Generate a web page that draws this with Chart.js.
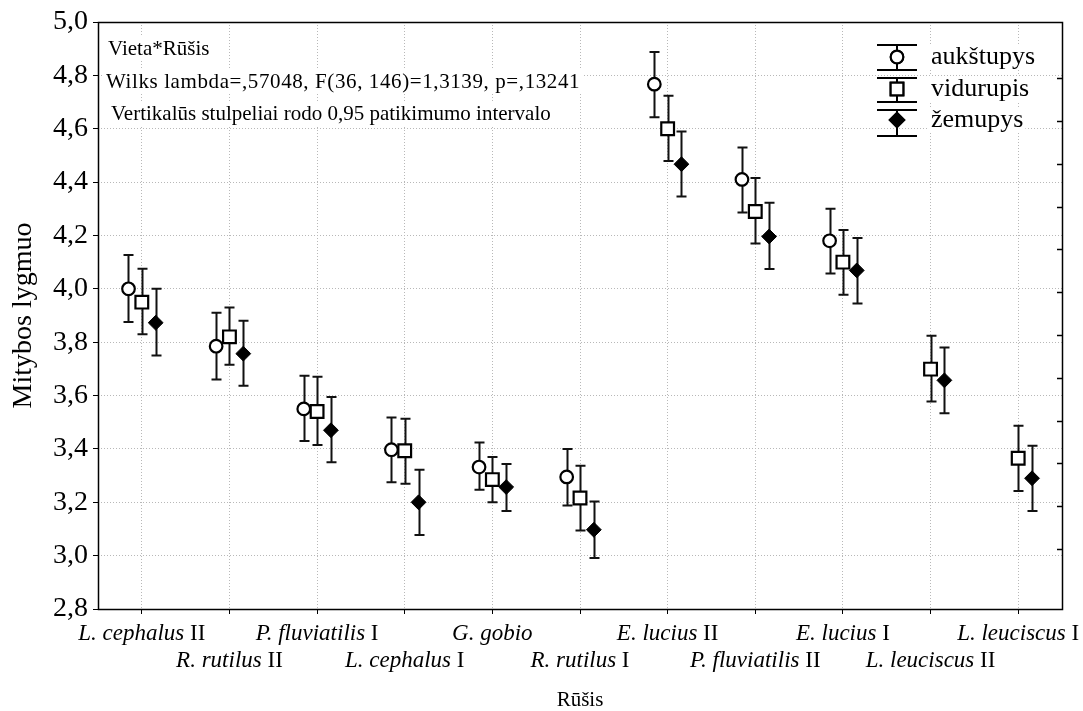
<!DOCTYPE html>
<html>
<head>
<meta charset="utf-8">
<script src="https://cdn.jsdelivr.net/npm/chart.js@4.4.1/dist/chart.umd.min.js"></script>
<style>
  html, body { margin: 0; padding: 0; background: #fff; }
  #wrap { width: 1083px; height: 711px; position: relative; }
  canvas { display: block; }
</style>
</head>
<body>
<div id="wrap"><canvas id="c" width="1083" height="711"></canvas></div>
<script>
// Species (italic part) and group numeral for each category
const speciesNames = ['L. cephalus', 'R. rutilus', 'P. fluviatilis', 'L. cephalus', 'G. gobio',
  'R. rutilus', 'E. lucius', 'P. fluviatilis', 'E. lucius', 'L. leuciscus', 'L. leuciscus'];
const speciesGroups = ['II', 'II', 'I', 'I', '', 'I', 'II', 'II', 'I', 'II', 'I'];

// Series names
const seriesNames = ['aukštupys', 'vidurupis', 'žemupys'];

// Means and 95% confidence limits per site
const aukMean = [4.00, 3.785, 3.55, 3.397, 3.332, 3.295, 4.767, 4.41, 4.18, null, null];
const aukLow  = [3.876, 3.66, 3.43, 3.275, 3.247, 3.188, 4.643, 4.286, 4.057, null, null];
const aukHigh = [4.127, 3.91, 3.674, 3.518, 3.424, 3.40, 4.888, 4.53, 4.30, null, null];

const vidMean = [3.95, 3.82, 3.54, 3.393, 3.285, 3.216, 4.60, 4.29, 4.10, 3.699, 3.365];
const vidLow  = [3.83, 3.715, 3.415, 3.269, 3.20, 3.094, 4.479, 4.17, 3.978, 3.578, 3.242];
const vidHigh = [4.075, 3.93, 3.67, 3.513, 3.37, 3.337, 4.724, 4.415, 4.22, 3.824, 3.487];

const zemMean = [3.873, 3.757, 3.47, 3.20, 3.257, 3.097, 4.467, 4.196, 4.069, 3.657, 3.29];
const zemLow  = [3.75, 3.637, 3.35, 3.077, 3.167, 2.991, 4.346, 4.074, 3.945, 3.534, 3.167];
const zemHigh = [4.0, 3.88, 3.595, 3.322, 3.343, 3.203, 4.59, 4.323, 4.19, 3.78, 3.412];

// Y axis range and step
const yMin = 2.8, yMax = 5.0, yStep = 0.2;

// Statistics text block
const statLines = [
  'Vieta*Rūšis',
  'Wilks lambda=,57048, F(36, 146)=1,3139, p=,13241',
  'Vertikalūs stulpeliai rodo 0,95 patikimumo intervalo'
];

const SERIF = '"Liberation Serif", "Times New Roman", serif';

// horizontal dodge of the three sites within a category
const dodge = [-0.152, 0, 0.158];

function toPoints(mean, low, high, shift) {
  return mean.map((m, i) => m === null ? null : { x: i + shift, y: m, lo: low[i], hi: high[i] });
}

const pointsAuk = toPoints(aukMean, aukLow, aukHigh, dodge[0]).filter(Boolean);
const pointsVid = toPoints(vidMean, vidLow, vidHigh, dodge[1]).filter(Boolean);
const pointsZem = toPoints(zemMean, zemLow, zemHigh, dodge[2]).filter(Boolean);

const markerStyles = [
  { pointStyle: 'circle', pointRadius: 6.3, backgroundColor: '#fff', borderWidth: 2.2 },
  { pointStyle: 'rect', pointRadius: 9, backgroundColor: '#fff', borderWidth: 2.2 },
  { pointStyle: 'rectRot', pointRadius: 7.4, backgroundColor: '#000', borderWidth: 1 }
];

// Error bars: vertical whisker with caps, drawn under the markers
const errorBars = {
  id: 'errorBars',
  beforeDatasetsDraw(chart) {
    const { ctx, scales: { x, y } } = chart;
    ctx.save();
    ctx.strokeStyle = '#111';
    ctx.lineWidth = 2;
    chart.data.datasets.forEach(ds => {
      ds.data.forEach(p => {
        const px = Math.round(x.getPixelForValue(p.x)) + 0.5;
        const yl = y.getPixelForValue(p.lo);
        const yh = y.getPixelForValue(p.hi);
        ctx.beginPath();
        ctx.moveTo(px, yl); ctx.lineTo(px, yh);
        ctx.moveTo(px - 5, yl); ctx.lineTo(px + 5, yl);
        ctx.moveTo(px - 5, yh); ctx.lineTo(px + 5, yh);
        ctx.stroke();
      });
    });
    ctx.restore();
  }
};

// Frame, right-side inner ticks, category labels, stats text and legend
const decor = {
  id: 'decor',
  afterDraw(chart) {
    const { ctx, chartArea: a, scales: { x, y2 } } = chart;
    ctx.save();

    // plot frame
    ctx.strokeStyle = '#000';
    ctx.lineWidth = 1.5;
    ctx.strokeRect(Math.round(a.left) + 0.5, Math.round(a.top) + 0.5,
      Math.round(a.right - a.left), Math.round(a.bottom - a.top));

    // inner ticks on the right edge
    ctx.lineWidth = 1.5;
    y2.ticks.forEach(t => {
      const py = Math.round(y2.getPixelForValue(t.value)) + 0.5;
      ctx.beginPath();
      ctx.moveTo(a.right - 5, py); ctx.lineTo(a.right, py);
      ctx.stroke();
    });

    // staggered category labels: italic species + roman group numeral
    ctx.fillStyle = '#000';
    ctx.textBaseline = 'middle';
    ctx.textAlign = 'left';
    speciesNames.forEach((name, i) => {
      const cx = x.getPixelForValue(i);
      const cy = a.bottom + (i % 2 === 0 ? 25 : 52);
      ctx.font = 'italic 23px ' + SERIF;
      const w1 = ctx.measureText(name).width;
      const tail = speciesGroups[i] ? ' ' + speciesGroups[i] : '';
      ctx.font = '23px ' + SERIF;
      const w2 = ctx.measureText(tail).width;
      let sx = cx - (w1 + w2) / 2;
      ctx.font = 'italic 23px ' + SERIF;
      ctx.fillText(name, sx, cy);
      ctx.font = '23px ' + SERIF;
      ctx.fillText(tail, sx + w1, cy);
    });

    // statistics text block with white backing
    ctx.font = '21px ' + SERIF;
    const statX = [a.left + 10, a.left + 8, a.left + 13];
    const statY = [a.top + 27, a.top + 60, a.top + 92];
    const statSpacing = ['0px', '0.6px', '0px'];
    statLines.forEach((line, i) => {
      ctx.letterSpacing = statSpacing[i];
      const w = ctx.measureText(line).width;
      ctx.fillStyle = '#fff';
      ctx.fillRect(statX[i] - 2, statY[i] - 12, w + 4, 24);
      ctx.fillStyle = '#000';
      ctx.fillText(line, statX[i], statY[i]);
    });
    ctx.letterSpacing = '0px';

    // legend
    const lx = a.right - 165;
    const rows = [
      { cy: a.top + 35, top: a.top + 23, bot: a.top + 48 },
      { cy: a.top + 67, top: a.top + 56, bot: a.top + 80 },
      { cy: a.top + 98, top: a.top + 88, bot: a.top + 114 }
    ];
    ctx.font = '26px ' + SERIF;
    rows.forEach((r, i) => {
      ctx.strokeStyle = '#000';
      ctx.lineWidth = 2;
      ctx.beginPath();
      ctx.moveTo(lx, r.top); ctx.lineTo(lx, r.bot);
      ctx.moveTo(lx - 20, r.top); ctx.lineTo(lx + 20, r.top);
      ctx.moveTo(lx - 20, r.bot); ctx.lineTo(lx + 20, r.bot);
      ctx.stroke();
      const m = markerStyles[i];
      Chart.helpers.drawPoint(ctx, {
        pointStyle: m.pointStyle, radius: m.pointRadius, rotation: 0, borderWidth: m.borderWidth
      }, lx, r.cy);
      ctx.fillStyle = m.backgroundColor;
      ctx.fill();
      ctx.lineWidth = m.borderWidth;
      ctx.strokeStyle = '#000';
      ctx.stroke();
      const tx = lx + 34;
      const w = ctx.measureText(seriesNames[i]).width;
      ctx.fillStyle = '#fff';
      ctx.fillRect(tx - 2, r.cy - 13, w + 4, 26);
      ctx.fillStyle = '#000';
      ctx.fillText(seriesNames[i], tx, r.cy);
    });

    ctx.restore();
  }
};

const fmtComma = v => v.toFixed(1).replace('.', ',');

new Chart(document.getElementById('c'), {
  type: 'scatter',
  data: {
    datasets: [
      { label: seriesNames[0], data: pointsAuk, borderColor: '#000', ...markerStyles[0], pointHoverRadius: 6.3 },
      { label: seriesNames[1], data: pointsVid, borderColor: '#000', ...markerStyles[1], pointHoverRadius: 9 },
      { label: seriesNames[2], data: pointsZem, borderColor: '#000', ...markerStyles[2], pointHoverRadius: 7.4 }
    ]
  },
  options: {
    responsive: false,
    animation: false,
    devicePixelRatio: 1,
    layout: { padding: { top: 22, left: 0, right: 0, bottom: 0 } },
    plugins: { legend: { display: false }, tooltip: { enabled: false } },
    scales: {
      x: {
        type: 'linear',
        min: -0.5,
        max: speciesNames.length - 0.5,
        afterBuildTicks: s => { s.ticks = speciesNames.map((_, i) => ({ value: i })); },
        afterFit: s => { s.height = 102; },
        ticks: { display: false },
        grid: { color: '#b8b8b8', lineWidth: 1, tickLength: 5, tickColor: '#000', tickBorderDash: [], drawTicks: true },
        border: { display: false, dash: [1, 2] },
        title: {
          display: true, text: 'Rūšis', color: '#000',
          font: { family: SERIF, size: 21, lineHeight: 1 }, padding: { top: 0, bottom: 0 }
        }
      },
      y: {
        min: yMin, max: yMax,
        afterFit: s => { s.width = 98; },
        ticks: { stepSize: yStep, color: '#000', padding: 5, font: { family: SERIF, size: 28 }, callback: v => fmtComma(v) },
        grid: { color: '#b8b8b8', lineWidth: 1, tickLength: 5, tickColor: '#000', tickBorderDash: [] },
        border: { display: false, dash: [1, 2] },
        title: {
          display: true, text: 'Mitybos lygmuo', color: '#000',
          font: { family: SERIF, size: 28 }, padding: { top: 7, bottom: 0 }
        }
      },
      y2: {
        position: 'right',
        min: -1.4, max: 12.31,
        afterBuildTicks: s => { s.ticks = Array.from({ length: 12 }, (_, k) => ({ value: k })); },
        afterFit: s => { s.width = 21; },
        ticks: { display: false },
        grid: { display: false, drawOnChartArea: false },
        border: { display: false }
      }
    }
  },
  plugins: [errorBars, decor]
});
</script>
</body>
</html>
